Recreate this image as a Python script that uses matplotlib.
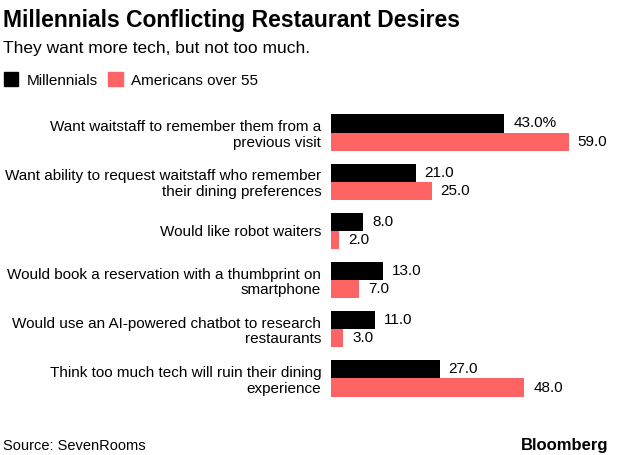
import matplotlib.pyplot as plt
import numpy as np

plt.rcParams['font.family'] = ['Liberation Sans', 'DejaVu Sans']

# 数据
categories = [
    "Want waitstaff to remember them from a\nprevious visit",
    "Want ability to request waitstaff who remember\ntheir dining preferences",
    "Would like robot waiters",
    "Would book a reservation with a thumbprint on\nsmartphone",
    "Would use an AI-powered chatbot to research\nrestaurants",
    "Think too much tech will ruin their dining\nexperience",
]
millennials = [43, 21, 8, 13, 11, 27]
over55 = [59, 25, 2, 7, 3, 48]
series_names = ["Millennials", "Americans over 55"]

black = '#000000'
pink = '#ff6464'

W, H = 640, 455
fig = plt.figure(figsize=(6.4, 4.55), dpi=100)
ax = fig.add_axes([331 / W, 0.1033, 289 / W, 0.6703])

y = np.arange(len(categories))
h = 0.37
ax.barh(y - h / 2, millennials, height=h, color=black)
ax.barh(y + h / 2, over55, height=h, color=pink)

ax.set_xlim(0, 289 / 4.03)
ax.set_ylim(5.6, -0.6)
for s in ax.spines.values():
    s.set_visible(False)
ax.set_xticks([])
ax.set_yticks(y)
ax.set_yticklabels(categories, fontsize=11, linespacing=1.15)
ax.tick_params(axis='y', length=0, pad=7)

for i in range(len(categories)):
    lab = f"{millennials[i]:.1f}%" if i == 0 else f"{millennials[i]:.1f}"
    ax.text(millennials[i] + 2.2, y[i] - h / 2, lab, va='center', ha='left', fontsize=11)
    ax.text(over55[i] + 2.2, y[i] + h / 2, f"{over55[i]:.1f}", va='center', ha='left', fontsize=11)

# 标题
fig.text(3 / W, 1 - 27 / H, "Millennials Conflicting Restaurant Desires",
         fontsize=16.5, fontweight='bold', va='baseline')
fig.text(3 / W, 1 - 53 / H, "They want more tech, but not too much.",
         fontsize=12.5, va='baseline')

# 图例
fig.patches.append(plt.Rectangle((4 / W, 1 - 86 / H), 14 / W, 14 / H,
                                 color=black, transform=fig.transFigure))
fig.text(27 / W, 1 - 85 / H, series_names[0], fontsize=11, va='baseline')
fig.patches.append(plt.Rectangle((108 / W, 1 - 86 / H), 15 / W, 14 / H,
                                 color=pink, transform=fig.transFigure))
fig.text(131 / W, 1 - 85 / H, series_names[1], fontsize=11, va='baseline')

fig.text(3 / W, 1 - 450 / H, "Source: SevenRooms", fontsize=10.5, va='baseline')
fig.text(608 / W, 1 - 450 / H, "Bloomberg", fontsize=12, fontweight='bold',
         ha='right', va='baseline')

fig.savefig('out.png', dpi=100)
